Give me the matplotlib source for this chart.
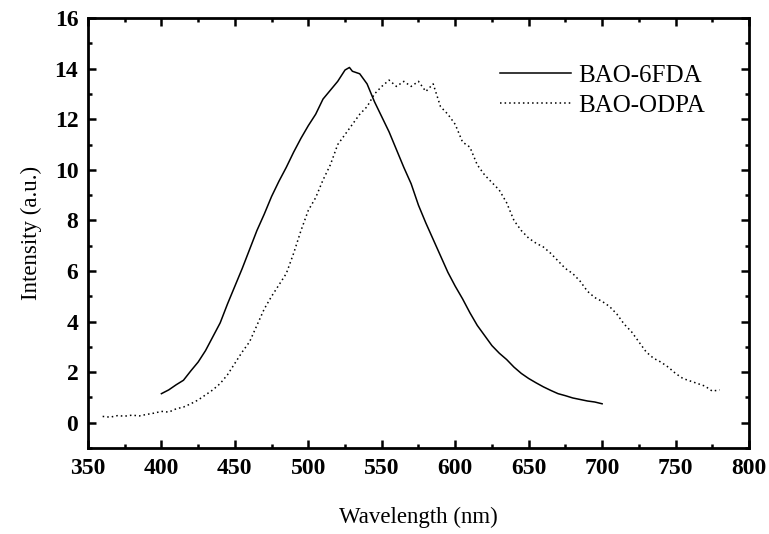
import matplotlib
matplotlib.use("Agg")
import matplotlib.pyplot as plt
from matplotlib.ticker import MultipleLocator

plt.rcParams["font.family"] = ["Liberation Serif", "DejaVu Serif"]

# BAO-6FDA
wl_6fda = [400, 405, 410, 415, 420, 425, 430, 435, 440, 445, 450, 455, 460, 465, 470,
           475, 480, 485, 490, 495, 500, 505, 510, 515, 520, 525, 528, 530, 535, 540,
           545, 550, 555, 560, 565, 570, 575, 580, 585, 590, 595, 600, 605, 610, 615,
           620, 625, 630, 635, 640, 645, 650, 655, 660, 665, 670, 675, 680, 685, 690,
           695, 700]
int_6fda = [1.15, 1.3, 1.5, 1.68, 2.05, 2.4, 2.85, 3.4, 3.95, 4.7, 5.4, 6.1, 6.85, 7.6, 8.25,
            8.95, 9.55, 10.1, 10.7, 11.25, 11.75, 12.2, 12.8, 13.15, 13.5, 13.95, 14.05, 13.9, 13.8, 13.4,
            12.7, 12.1, 11.5, 10.8, 10.1, 9.45, 8.6, 7.9, 7.25, 6.6, 5.95, 5.4, 4.9, 4.35, 3.85,
            3.45, 3.05, 2.75, 2.5, 2.2, 1.95, 1.75, 1.58, 1.42, 1.28, 1.15, 1.07, 0.98, 0.92, 0.86,
            0.82, 0.75]

# BAO-ODPA
wl_odpa = [360, 365, 370, 375, 380, 385, 390, 395, 400, 405, 410, 415, 420, 425, 430,
           435, 440, 445, 450, 455, 460, 465, 470, 475, 480, 485, 490, 495, 500, 505,
           510, 515, 520, 525, 530, 535, 540, 545, 550, 555, 560, 565, 570, 575, 580,
           585, 590, 595, 600, 605, 610, 615, 620, 625, 630, 635, 640, 645, 650, 655,
           660, 665, 670, 675, 680, 685, 690, 695, 700, 705, 710, 715, 720, 725, 730,
           735, 740, 745, 750, 755, 760, 765, 770, 775, 780]
int_odpa = [0.25, 0.22, 0.28, 0.26, 0.3, 0.27, 0.33, 0.38, 0.45, 0.42, 0.55, 0.62, 0.75, 0.9, 1.1,
            1.3, 1.55, 1.9, 2.35, 2.8, 3.2, 3.85, 4.5, 5.0, 5.45, 5.9, 6.7, 7.6, 8.4, 8.9,
            9.6, 10.2, 11.0, 11.4, 11.8, 12.2, 12.5, 13.0, 13.3, 13.55, 13.3, 13.5, 13.3, 13.5, 13.1,
            13.4, 12.5, 12.2, 11.8, 11.1, 10.9, 10.2, 9.8, 9.5, 9.2, 8.7, 8.0, 7.6, 7.3, 7.1,
            6.95, 6.7, 6.4, 6.1, 5.9, 5.6, 5.2, 4.95, 4.8, 4.6, 4.3, 3.9, 3.6, 3.2, 2.8,
            2.55, 2.4, 2.2, 1.95, 1.75, 1.65, 1.55, 1.45, 1.25, 1.3]

fig = plt.figure(figsize=(7.69, 5.34), dpi=100)
ax = fig.add_axes([0.1144, 0.161, 0.8596, 0.805])

ax.plot(wl_6fda, int_6fda, color="black", lw=1.1, label="BAO-6FDA")
ax.plot(wl_odpa, int_odpa, color="black", lw=1.1, linestyle=(0, (1, 2)), label="BAO-ODPA")

ax.set_xlim(350, 800)
ax.set_ylim(-1, 16)
ax.xaxis.set_major_locator(MultipleLocator(50))
ax.xaxis.set_minor_locator(MultipleLocator(25))
ax.yaxis.set_major_locator(MultipleLocator(2))
ax.yaxis.set_minor_locator(MultipleLocator(1))
ax.tick_params(which="both", direction="in", top=True, right=True, width=1.8)
ax.tick_params(which="major", length=5.5, labelsize=17, pad=7)
ax.tick_params(which="minor", length=3)
for lab in ax.get_xticklabels() + ax.get_yticklabels():
    lab.set_fontweight("bold")
for sp in ax.spines.values():
    sp.set_linewidth(2)

ax.set_xlabel("Wavelength (nm)", fontsize=16.5, labelpad=20)
ax.set_ylabel("Intensity (a.u.)", fontsize=16.5, labelpad=9)

ax.legend(loc="upper left", bbox_to_anchor=(0.604, 0.922), frameon=False, fontsize=18,
          borderpad=0, handlelength=2.85, handletextpad=0.3, labelspacing=0.3)

fig.savefig("out.png", dpi=100)
